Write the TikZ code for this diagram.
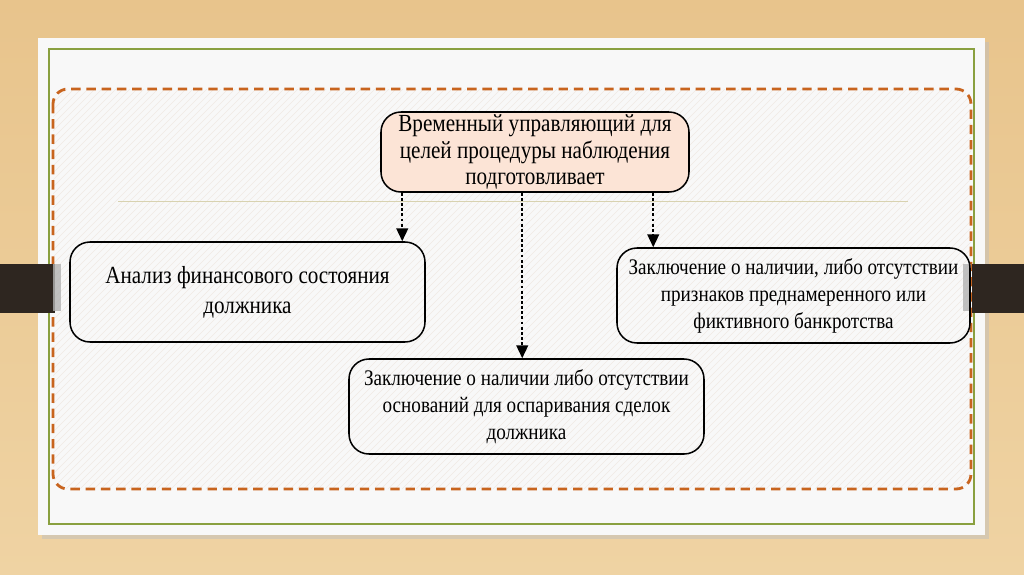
\documentclass[tikz,border=0pt]{standalone}
\usepackage{fontspec}
\setmainfont{Liberation Serif}[FakeStretch=0.86]
\usetikzlibrary{arrows.meta,calc}
\definecolor{wood}{HTML}{E8C48C}
\definecolor{woodlight}{HTML}{EFD3A3}
\definecolor{paper}{HTML}{F8F8F8}
\definecolor{frameg}{HTML}{8AA040}
\definecolor{dashor}{HTML}{C8641E}
\definecolor{peach}{HTML}{FCE4D6}
\definecolor{barc}{HTML}{2E2620}
\definecolor{hatch}{HTML}{F0EAE4}
\definecolor{rule}{HTML}{D8D2B0}
\tikzset{
  box/.style={draw=black, line width=1.3pt, rounded corners=20*0.03cm, align=center, inner sep=0pt},
  txt/.style={font=\fontsize{19}{23}\selectfont},
  bigtxt/.style={font=\fontsize{21}{22.5}\selectfont},
  conn/.style={line width=1.6pt, dash pattern=on 2.4pt off 2pt, -{Triangle[length=11pt,width=10pt]}},
}
\begin{document}
\begin{tikzpicture}[x=0.03cm,y=-0.03cm]
\useasboundingbox (0,0) rectangle (1024,574);
% wood background
\fill[top color=wood, bottom color=woodlight] (0,0) rectangle (1024,574);
% paper shadow and paper
\fill[black!25, opacity=0.5] (42,42) rectangle (989,539);
\fill[paper] (38,38) rectangle (985,535);
\draw[frameg, line width=1pt] (49,49) rectangle (974,524);
% hatched area
\begin{scope}
\clip[rounded corners=15*0.03cm] (53,89) rectangle (971,489);
\foreach \i in {0,7,...,1330} {
  \draw[hatch, line width=0.5pt] (53+\i-400,489) -- (53+\i,89);
}
\end{scope}
\draw[dashor, line width=2.4pt, dash pattern=on 8pt off 5pt, rounded corners=15*0.03cm] (53,89) rectangle (971,489);
% side bars
\fill[barc] (0,264) rectangle (55,313);
\fill[black!30, opacity=0.8] (53,264) rectangle (61,311);
\fill[barc] (972,264) rectangle (1024,313);
\fill[black!30, opacity=0.8] (963,264) rectangle (971,311);
% horizontal line
\draw[rule, line width=0.8pt] (118,201) -- (908,201);
% boxes
\node[box, fill=peach, minimum width=308*0.03cm, minimum height=80*0.03cm, bigtxt] (top) at (535,152)
  {Временный управляющий для\\целей процедуры наблюдения\\подготовливает};
\node[box, minimum width=355*0.03cm, minimum height=100*0.03cm, font=\fontsize{21}{25.6}\selectfont] (left) at (247.5,292)
  {Анализ финансового состояния\\должника};
\node[box, minimum width=353*0.03cm, minimum height=95*0.03cm, txt] (right) at (793.5,295.5)
  {Заключение о наличии, либо отсутствии\\признаков преднамеренного или\\фиктивного банкротства};
\node[box, minimum width=355*0.03cm, minimum height=95*0.03cm, txt] (bottom) at (526.5,406.5)
  {Заключение о наличии либо отсутствии\\оснований для оспаривания сделок\\должника};
% connectors
\draw[conn] ([xshift=22*0.03cm]top.south west) -- ([xshift=22*0.03cm]top.south west |- left.north);
\draw[conn] ([xshift=142*0.03cm]top.south west) -- ([xshift=142*0.03cm]top.south west |- bottom.north);
\draw[conn] ([xshift=273*0.03cm]top.south west) -- ([xshift=273*0.03cm]top.south west |- right.north);
\end{tikzpicture}
\end{document}
